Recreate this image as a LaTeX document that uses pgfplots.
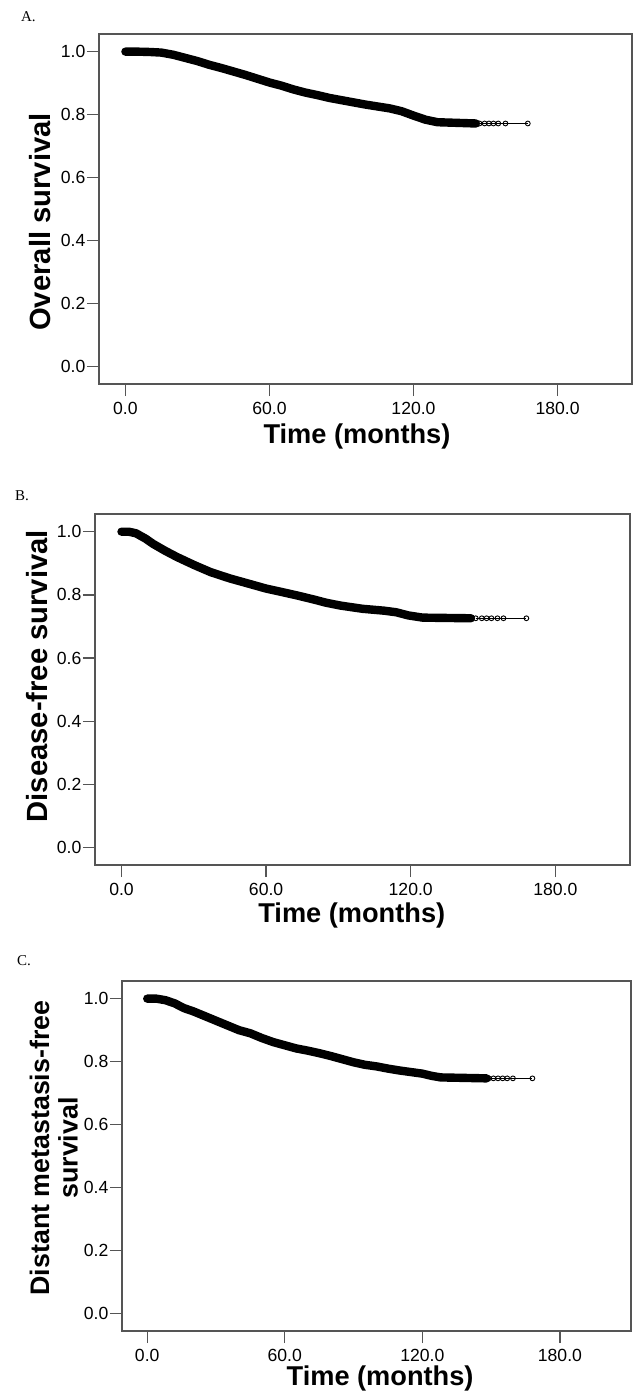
\documentclass[border=0pt]{standalone}
\usepackage{fontspec}
\setmainfont{Liberation Sans}
\newfontfamily\letterfont{Liberation Serif}
\usepackage{pgfplots}
\pgfplotsset{compat=1.18}
\definecolor{axisgray}{HTML}{555555}
\newcommand\labelfont{\fontsize{13.6}{12.5}\selectfont\bfseries}

\pgfplotsset{km/.style={
  scale only axis, anchor=north west,
  xmin=-11, xmax=211, ymin=-0.055, ymax=1.056,
  xtick={0,60,120,180}, ytick={0,0.2,0.4,0.6,0.8,1.0},
  tick pos=left, tick align=outside, major tick length=6pt,
  axis line style={draw=axisgray, line width=0.65pt},
  tick style={draw=axisgray, line width=0.65pt},
  /pgf/number format/fixed, /pgf/number format/fixed zerofill,
  /pgf/number format/precision=1, /pgf/number format/assume math mode=true,
  tick label style={font=\fontsize{8.8}{10}\selectfont},
  yticklabel style={inner xsep=0.6pt},
  xticklabel style={inner xsep=0pt, inner ysep=3pt},
  every axis x label/.style={anchor=center, font=\labelfont},
  every axis y label/.style={anchor=center, rotate=90, align=center, font=\labelfont},
},
band/.style={black, line width=4.2pt, line cap=round, line join=round},
tail/.style={black, line width=0.5pt, mark=o, mark size=1.2pt, mark options={line width=0.45pt}}}

\begin{document}
\begin{tikzpicture}
\path[use as bounding box] (0,0) rectangle (316.5pt,-699.5pt);

\node[anchor=base west, font=\letterfont\fontsize{7.5}{9}\selectfont] at (7pt,-10.5pt) {A.};
\begin{axis}[km, at={(49.5pt,-17pt)}, width=266.5pt, height=175pt,
  xlabel={Time (months)}, ylabel={Overall survival},
  xlabel style={at={(axis description cs:0.484,-0.151)}},
  ylabel style={at={(axis description cs:-0.111,0.463)}, font=\fontsize{14.6}{13}\selectfont\bfseries}]
\addplot[band] coordinates {(0,1.0)(5,1.0)(10,0.999)(15,0.997)(20,0.99)(25,0.98)(30,0.97)
  (35,0.958)(40,0.948)(45,0.937)(50,0.926)(55,0.914)(60,0.902)(65,0.892)(70,0.88)(75,0.87)
  (80,0.862)(85,0.853)(90,0.846)(95,0.839)(100,0.832)(105,0.826)(110,0.82)(115,0.811)
  (120,0.797)(125,0.784)(130,0.776)(146,0.772)};
\addplot[tail] coordinates {(147.5,0.772)(149.6,0.772)(151.4,0.772)(153.3,0.772)(155.3,0.772)
  (158.3,0.772)(167.6,0.772)};
\end{axis}

\node[anchor=base west, font=\letterfont\fontsize{7.5}{9}\selectfont] at (4pt,-250pt) {B.};
\begin{axis}[km, at={(47.5pt,-257pt)}, width=267.5pt, height=175.5pt,
  xlabel={Time (months)}, ylabel={Disease-free survival},
  xlabel style={at={(axis description cs:0.48,-0.145)}},
  ylabel style={at={(axis description cs:-0.108,0.538)}, font=\fontsize{14.6}{13}\selectfont\bfseries}]
\addplot[band] coordinates {(0,1.0)(3,1.0)(6,0.995)(10,0.978)(13,0.962)(18,0.94)(23,0.92)
  (30,0.895)(37,0.872)(45,0.852)(53,0.835)(60,0.82)(66,0.81)(73,0.798)(80,0.785)(85,0.775)
  (91,0.766)(100,0.756)(109,0.75)(114,0.745)(119,0.735)(125,0.728)(145,0.726)};
\addplot[tail] coordinates {(147,0.726)(149.5,0.726)(151.5,0.726)(153.5,0.726)(156,0.726)
  (158.5,0.726)(168,0.726)};
\end{axis}

\node[anchor=base west, font=\letterfont\fontsize{7.5}{9}\selectfont] at (5pt,-482.5pt) {C.};
\begin{axis}[km, at={(61pt,-490.5pt)}, width=254.5pt, height=175pt,
  xlabel={Time (months)}, ylabel={Distant metastasis-free\\survival},
  xlabel style={at={(axis description cs:0.507,-0.135)}},
  ylabel style={at={(axis description cs:-0.134,0.523)}, font=\fontsize{13.4}{14.2}\selectfont\bfseries}]
\addplot[band] coordinates {(0,1.0)(4,1.0)(8,0.995)(12,0.985)(16,0.97)(20,0.96)(25,0.945)
  (30,0.93)(35,0.915)(40,0.9)(45,0.89)(50,0.875)(55,0.862)(60,0.852)(65,0.842)(70,0.835)
  (75,0.827)(80,0.818)(85,0.808)(90,0.798)(95,0.79)(100,0.785)(105,0.778)(110,0.772)
  (115,0.767)(120,0.762)(124,0.755)(128,0.75)(148,0.747)};
\addplot[tail] coordinates {(149,0.747)(151,0.747)(153,0.747)(155,0.747)(157,0.747)
  (159.5,0.747)(168,0.747)};
\end{axis}
\end{tikzpicture}
\end{document}
